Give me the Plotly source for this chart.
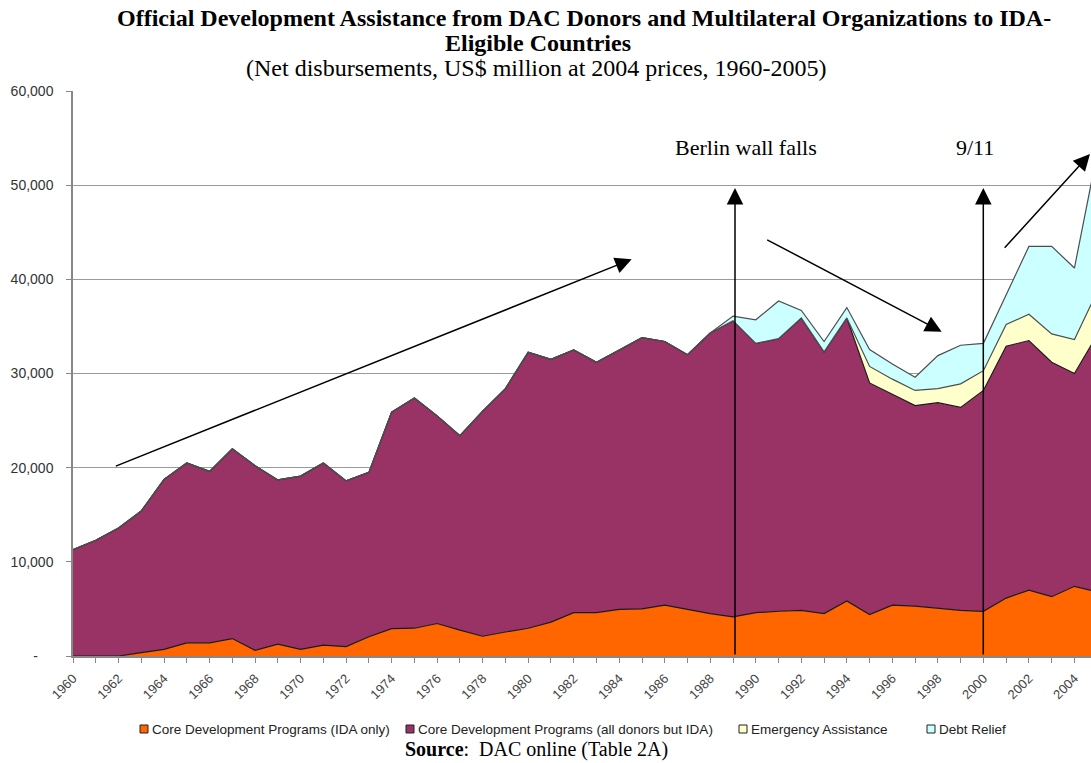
import plotly.graph_objects as go

# ---------------- data (US$ million, 2004 prices) ----------------
years = list(range(1960, 2006))

ida_only = [0, 0, 0, 350, 700, 1400, 1400, 1850, 600, 1250,
            700, 1150, 1000, 2050, 2900, 2950, 3450, 2750, 2100, 2550,
            2950, 3600, 4600, 4600, 4950, 5000, 5400, 4950, 4500, 4150,
            4600, 4750, 4850, 4500, 5850, 4400, 5400, 5300, 5100, 4850,
            4750, 6150, 7000, 6300, 7400, 6800]

non_ida = [11300, 12300, 13600, 15050, 18050, 19100, 18200, 20150, 19600, 17450,
           18400, 19350, 17600, 17450, 23000, 24450, 22050, 20650, 23900, 25850,
           29300, 27900, 27900, 26600, 27550, 28800, 28000, 27050, 29800, 31450,
           28600, 28950, 31050, 27800, 30050, 24600, 22400, 21300, 21800, 21550,
           23450, 26750, 26500, 24900, 22600, 27300]

emergency = [0] * 35 + [1750, 1600, 1600, 1500, 2500, 2100, 2300, 2800, 3000, 3600, 4600]

debt_relief = [0] * 29 + [500, 2500, 4000, 800, 1100, 1100, 1800, 1600, 1400, 3500,
                          4100, 2900, 3200, 7200, 9300, 7600, 14700]

series_names = ["Core Development Programs (IDA only)",
                "Core Development Programs (all donors but IDA)",
                "Emergency Assistance",
                "Debt Relief"]
series_values = [ida_only, non_ida, emergency, debt_relief]
fill_colors = ["#FF6600", "#993366", "#FFFFCC", "#CCFFFF"]
edge_colors = ["#1a1a1a", "#1a1a1a", "#4d4d4d", "#4d4d4d"]

y_tick_vals = [0, 10000, 20000, 30000, 40000, 50000, 60000]
y_tick_text = ["-\u00a0\u00a0\u00a0\u00a0", "10,000", "20,000", "30,000",
               "40,000", "50,000", "60,000"]

# ---------------- layout geometry ----------------
W, H = 1091, 763
L, R, T, B = 73, 0, 91, 107
PW, PH = W - L - R, H - T - B
YEAR_PX = 22.76

SERIF = "Liberation Serif, Times New Roman, serif"
SANS = "Liberation Sans, Arial, sans-serif"


def fx(x):
    return (x - L) / PW


def fy(y):
    return (H - B - y) / PH


fig = go.Figure()
for name, vals, fc, ec in zip(series_names, series_values, fill_colors, edge_colors):
    fig.add_trace(go.Scatter(
        x=years, y=vals, name=name, stackgroup="one", mode="lines",
        line=dict(color=ec, width=1.2), fillcolor=fc, showlegend=False))

annotations = []
# titles
annotations.append(dict(
    text="<b>Official Development Assistance from DAC Donors and Multilateral Organizations to IDA-</b>",
    x=fx(584), y=fy(18), font=dict(family=SERIF, size=24, color="black")))
annotations.append(dict(text="<b>Eligible Countries</b>", x=fx(538), y=fy(43),
                        font=dict(family=SERIF, size=24, color="black")))
annotations.append(dict(text="(Net disbursements, US$ million at 2004 prices, 1960-2005)",
                        x=fx(536), y=fy(68), font=dict(family=SERIF, size=24, color="black")))
# event labels
annotations.append(dict(text="Berlin wall falls", x=fx(746), y=fy(148),
                        font=dict(family=SERIF, size=22, color="black")))
annotations.append(dict(text="9/11", x=fx(975), y=fy(148),
                        font=dict(family=SERIF, size=22, color="black")))
# source
annotations.append(dict(text="<b>Source</b>:\u00a0 DAC online (Table 2A)", x=fx(536), y=fy(749),
                        font=dict(family=SERIF, size=20, color="black")))
for a in annotations:
    a.update(xref="paper", yref="paper", xanchor="center", yanchor="middle", showarrow=False)

# arrows: (head_x, head_y, tail_x, tail_y) in pixels
arrows = [(735, 188, 735, 656), (983.3, 188, 983.3, 656),
          (631.7, 259.3, 114.3, 466.7), (941.7, 331.7, 765.7, 239),
          (1094, 154, 1003.3, 249.3)]
for hx, hy, tx, ty in arrows:
    annotations.append(dict(
        text="", x=fx(hx), y=fy(hy), xref="paper", yref="paper",
        ax=tx - hx, ay=ty - hy, axref="pixel", ayref="pixel",
        showarrow=True, arrowhead=2, arrowsize=2.2, arrowwidth=1.5,
        arrowcolor="black", standoff=0))

# custom legend
legend_sq_x = [140, 406, 739, 927]
legend_y = 729
shapes = []
for sx, name, fc in zip(legend_sq_x, series_names, fill_colors):
    shapes.append(dict(type="rect", xref="paper", yref="paper",
                       x0=fx(sx), x1=fx(sx + 8), y0=fy(legend_y + 4), y1=fy(legend_y - 4),
                       fillcolor=fc, line=dict(color="#222222", width=1)))
    annotations.append(dict(text=name, x=fx(sx + 9.5), y=fy(legend_y), xref="paper", yref="paper",
                            xanchor="left", yanchor="middle", showarrow=False,
                            font=dict(family=SANS, size=13.5, color="#222222")))

fig.update_layout(
    width=W, height=H, margin=dict(l=L, r=R, t=T, b=B, pad=0),
    paper_bgcolor="white", plot_bgcolor="white",
    annotations=annotations, shapes=shapes, showlegend=False,
    xaxis=dict(range=[1960, 1960 + PW / YEAR_PX], tickmode="linear", tick0=1960, dtick=2,
               ticks="outside", ticklen=5, tickcolor="#888888", tickwidth=1,
               minor=dict(tick0=1960, dtick=1, ticks="outside", ticklen=5,
                          tickcolor="#888888", tickwidth=1, showgrid=False),
               showline=True, linecolor="#888888", linewidth=1.5, showgrid=False,
               zeroline=False, tickangle=-45, ticklabelstandoff=3,
               tickfont=dict(family=SANS, size=13, color="#444444")),
    yaxis=dict(range=[0, 60000], tickmode="array", tickvals=y_tick_vals, ticktext=y_tick_text,
               ticks="outside", ticklen=5, tickcolor="#888888", tickwidth=1,
               showline=True, linecolor="#888888", linewidth=1.5,
               showgrid=True, gridcolor="#9a9a9a", gridwidth=1.2, zeroline=False,
               ticklabelstandoff=10,
               tickfont=dict(family=SANS, size=14, color="#333333")),
)

fig.write_html("out.html",
               config={"displayModeBar": False},
               post_script="document.body.style.margin='0px';"
                           "document.body.style.overflow='hidden';")
